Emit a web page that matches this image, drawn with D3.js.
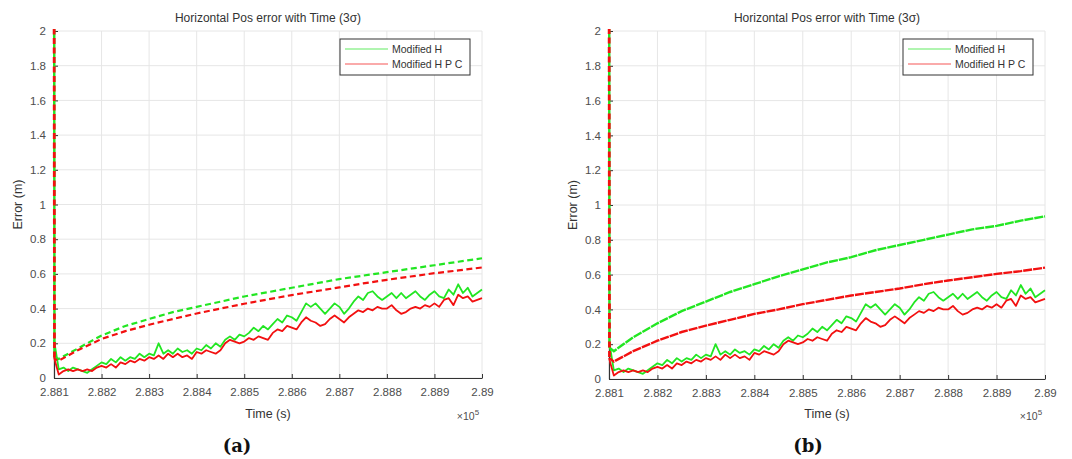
<!DOCTYPE html>
<html><head><meta charset="utf-8">
<script src="https://cdn.jsdelivr.net/npm/d3@7"></script>
<style>
body{margin:0;background:#fff;}
svg{display:block;font-family:"Liberation Sans",Arial,Helvetica,sans-serif;}
</style>
</head><body>
<svg id="c" width="1072" height="459"></svg>
<script>
// ---------- data ----------
const xTicks = [288100, 288200, 288300, 288400, 288500, 288600, 288700, 288800, 288900, 289000];
const xTickLabels = ["2.881", "2.882", "2.883", "2.884", "2.885", "2.886", "2.887", "2.888", "2.889", "2.89"];
const yTicks = [0, 0.2, 0.4, 0.6, 0.8, 1, 1.2, 1.4, 1.6, 1.8, 2];
const yTickLabels = ["0", "0.2", "0.4", "0.6", "0.8", "1", "1.2", "1.4", "1.6", "1.8", "2"];
const seriesNames = ["Modified H", "Modified H P C"];
const panelLabels = ["(a)", "(b)"];
const titleText = "Horizontal Pos error with Time (3\u03C3)";

// 3-sigma bounds
const boundTimes = [288100, 288101, 288110, 288150, 288200, 288250, 288300, 288350, 288400, 288450, 288500,
                    288550, 288600, 288650, 288700, 288750, 288800, 288850, 288900, 288950, 289000];
const boundH_a   = [3.0, 0.12, 0.11, 0.17, 0.245, 0.30, 0.34, 0.38, 0.41, 0.44, 0.47,
                    0.495, 0.52, 0.545, 0.57, 0.59, 0.61, 0.63, 0.65, 0.67, 0.69];
const boundHPC_a = [3.0, 0.11, 0.10, 0.16, 0.225, 0.27, 0.307, 0.34, 0.372, 0.40, 0.428,
                    0.453, 0.478, 0.50, 0.522, 0.545, 0.566, 0.585, 0.604, 0.62, 0.637];
const boundH_b   = [3.0, 0.18, 0.16, 0.24, 0.32, 0.39, 0.445, 0.50, 0.545, 0.59, 0.63,
                    0.67, 0.70, 0.74, 0.77, 0.80, 0.83, 0.86, 0.88, 0.91, 0.935];
const boundHPC_b = [3.0, 0.12, 0.10, 0.16, 0.22, 0.27, 0.307, 0.34, 0.374, 0.40, 0.43,
                    0.455, 0.48, 0.50, 0.52, 0.545, 0.566, 0.585, 0.604, 0.62, 0.64];

// position errors (sampled every 10 s from 288100 s)
const errStart = 288100, errStep = 10;
const errH = [0.22, 0.05, 0.06, 0.04, 0.06, 0.05, 0.04, 0.03, 0.05, 0.07,
              0.09, 0.08, 0.11, 0.09, 0.12, 0.10, 0.12, 0.11, 0.14, 0.12,
              0.14, 0.13, 0.20, 0.14, 0.16, 0.14, 0.17, 0.15, 0.16, 0.14,
              0.17, 0.16, 0.19, 0.17, 0.20, 0.18, 0.22, 0.24, 0.22, 0.25,
              0.24, 0.26, 0.29, 0.27, 0.30, 0.28, 0.31, 0.34, 0.32, 0.36,
              0.35, 0.33, 0.38, 0.43, 0.41, 0.43, 0.40, 0.37, 0.40, 0.43,
              0.41, 0.37, 0.40, 0.44, 0.47, 0.45, 0.49, 0.50, 0.47, 0.45,
              0.47, 0.49, 0.46, 0.49, 0.46, 0.48, 0.50, 0.47, 0.45, 0.48,
              0.50, 0.47, 0.46, 0.51, 0.48, 0.54, 0.49, 0.52, 0.47, 0.49, 0.51];
const errHPC = [0.12, 0.02, 0.04, 0.05, 0.04, 0.05, 0.04, 0.05, 0.04, 0.06,
                0.07, 0.06, 0.08, 0.06, 0.09, 0.08, 0.10, 0.09, 0.11, 0.10,
                0.12, 0.11, 0.13, 0.11, 0.14, 0.12, 0.14, 0.12, 0.13, 0.11,
                0.15, 0.14, 0.16, 0.15, 0.14, 0.16, 0.20, 0.22, 0.21, 0.20,
                0.21, 0.23, 0.22, 0.24, 0.23, 0.22, 0.26, 0.28, 0.27, 0.30,
                0.29, 0.28, 0.32, 0.35, 0.33, 0.32, 0.30, 0.31, 0.34, 0.36,
                0.34, 0.32, 0.35, 0.37, 0.39, 0.38, 0.40, 0.39, 0.41, 0.40,
                0.40, 0.42, 0.39, 0.37, 0.38, 0.40, 0.41, 0.40, 0.42, 0.41,
                0.43, 0.41, 0.45, 0.46, 0.42, 0.48, 0.46, 0.47, 0.44, 0.45, 0.46];

// ---------- drawing ----------
const GREEN = "#22e622", RED = "#f21010";
const svg = d3.select("#c");

const panels = [
  {x0: 54, x1: 482, y0: 31, y1: 378, bH: boundH_a, bHPC: boundHPC_a, dash: "6,3.5", bw: 2.2, vdash: "6,3.5", label: panelLabels[0], labelX: 237},
  {x0: 609, x1: 1045, y0: 31, y1: 379, bH: boundH_b, bHPC: boundHPC_b, dash: "9,1", bw: 2.4, vdash: "6,3.5", label: panelLabels[1], labelX: 808}
];

panels.forEach((p, pi) => {
  const x = d3.scaleLinear().domain([288100, 289000]).range([p.x0, p.x1]);
  const y = d3.scaleLinear().domain([0, 2]).range([p.y1, p.y0]);
  const g = svg.append("g");
  const cx = (p.x0 + p.x1) / 2;

  // grid
  g.append("g").selectAll("line").data(xTicks).join("line")
    .attr("x1", d => x(d)).attr("x2", d => x(d)).attr("y1", p.y0).attr("y2", p.y1)
    .attr("stroke", "#e6e6e6").attr("stroke-width", 1);
  g.append("g").selectAll("line").data(yTicks).join("line")
    .attr("x1", p.x0).attr("x2", p.x1).attr("y1", d => y(d)).attr("y2", d => y(d))
    .attr("stroke", "#e6e6e6").attr("stroke-width", 1);

  // axes
  const xAxis = d3.axisBottom(x).tickValues(xTicks).tickFormat((d, i) => xTickLabels[i]).tickSizeInner(-4).tickSizeOuter(0).tickPadding(10);
  const ax = g.append("g").attr("transform", `translate(0,${p.y1})`).call(xAxis);
  ax.select(".domain").attr("stroke", "#333").attr("stroke-width", 1.2);
  ax.selectAll(".tick line").attr("stroke", "#333");
  ax.selectAll("text").attr("font-size", 11.5).attr("fill", "#4d4d4d").attr("font-family", "Liberation Sans, Arial, sans-serif");

  const yAxis = d3.axisLeft(y).tickValues(yTicks).tickFormat((d, i) => yTickLabels[i]).tickSizeInner(-4).tickSizeOuter(0).tickPadding(8);
  const ay = g.append("g").attr("transform", `translate(${p.x0},0)`).call(yAxis);
  ay.select(".domain").attr("stroke", "#333").attr("stroke-width", 1.2);
  ay.selectAll(".tick line").attr("stroke", "#333");
  ay.selectAll("text").attr("font-size", 11.5).attr("fill", "#4d4d4d").attr("font-family", "Liberation Sans, Arial, sans-serif");

  // clip
  const clipId = "clip" + pi;
  svg.append("clipPath").attr("id", clipId).append("rect")
    .attr("x", p.x0 - 3).attr("y", p.y0 - 2).attr("width", p.x1 - p.x0 + 6).attr("height", p.y1 - p.y0 + 4);
  const plot = g.append("g").attr("clip-path", `url(#${clipId})`);

  const lineB = d3.line().x((d, i) => x(boundTimes[i])).y(d => y(d));
  const lineE = d3.line().x((d, i) => x(errStart + i * errStep)).y(d => y(d));
  // initial vertical drop of the bounds (first two samples) drawn dashed
  const vDrop = d => d.slice(0, 2);
  const rest = d => d.slice(1);
  const lineR = d3.line().x((d, i) => x(boundTimes[i + 1])).y(d => y(d));

  plot.append("path").datum(rest(p.bH)).attr("d", lineR).attr("fill", "none")
    .attr("stroke", GREEN).attr("stroke-width", p.bw).attr("stroke-dasharray", p.dash);
  plot.append("path").datum(vDrop(p.bH)).attr("d", lineB).attr("fill", "none")
    .attr("stroke", GREEN).attr("stroke-width", 2.4);
  plot.append("path").datum(errH).attr("d", lineE).attr("fill", "none")
    .attr("stroke", GREEN).attr("stroke-width", 1.8).attr("stroke-linejoin", "round");
  plot.append("path").datum(rest(p.bHPC)).attr("d", lineR).attr("fill", "none")
    .attr("stroke", RED).attr("stroke-width", p.bw).attr("stroke-dasharray", p.dash).attr("stroke-dashoffset", 3);
  plot.append("path").datum(vDrop(p.bHPC)).attr("d", lineB).attr("fill", "none")
    .attr("stroke", RED).attr("stroke-width", 2.8).attr("stroke-dasharray", p.vdash);
  plot.append("path").datum(errHPC).attr("d", lineE).attr("fill", "none")
    .attr("stroke", RED).attr("stroke-width", 1.8).attr("stroke-linejoin", "round");

  // title
  g.append("text").attr("x", cx).attr("y", 22).attr("text-anchor", "middle")
    .attr("font-size", 12).attr("fill", "#333").text(titleText);
  // axis labels
  g.append("text").attr("x", cx).attr("y", 418).attr("text-anchor", "middle")
    .attr("font-size", 12.5).attr("fill", "#333").text("Time (s)");
  g.append("text").attr("transform", `translate(${p.x0 - 32},${(p.y0 + p.y1) / 2}) rotate(-90)`)
    .attr("text-anchor", "middle").attr("font-size", 12.5).attr("fill", "#333").text("Error (m)");
  const ex = g.append("text").attr("x", p.x1 - 14).attr("y", 420).attr("text-anchor", "middle")
    .attr("font-size", 10.5).attr("fill", "#4d4d4d");
  ex.append("tspan").text("\u00D710");
  ex.append("tspan").attr("dy", -5).attr("font-size", 8).text("5");

  // legend
  const lw = 130, lh = 36;
  const lx = p.x1 - 12 - lw, ly = 39;
  const leg = g.append("g");
  leg.append("rect").attr("x", lx).attr("y", ly).attr("width", lw).attr("height", lh)
    .attr("fill", "#fff").attr("stroke", "#333").attr("stroke-width", 1);
  [GREEN, RED].forEach((c, i) => {
    const yy = ly + 10 + i * 15;
    leg.append("line").attr("x1", lx + 5).attr("x2", lx + 48).attr("y1", yy).attr("y2", yy)
      .attr("stroke", c).attr("stroke-width", 1.2).attr("opacity", 0.7);
    leg.append("text").attr("x", lx + 52).attr("y", yy + 4).attr("font-size", 10.5).attr("fill", "#333")
      .text(seriesNames[i]);
  });

  // panel label
  svg.append("text").attr("x", p.labelX).attr("y", 452).attr("text-anchor", "middle")
    .attr("font-family", "DejaVu Serif, Liberation Serif, serif").attr("font-weight", "bold")
    .attr("font-size", 18).attr("fill", "#111").text(p.label);
});
</script>
</body></html>
